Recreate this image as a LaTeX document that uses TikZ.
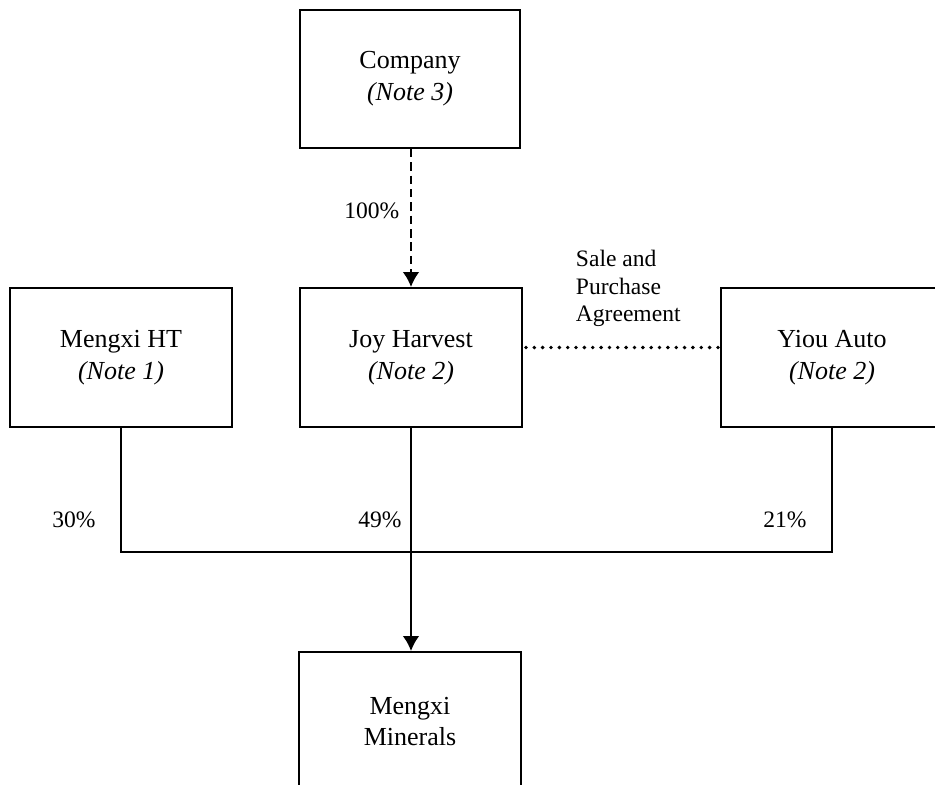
\documentclass[tikz,border=0pt]{standalone}
\usepackage{fontspec}
\setmainfont{Liberation Serif}
\usetikzlibrary{positioning,calc,arrows.meta}

\begin{document}
\begin{tikzpicture}[font=\fontsize{14.8}{18.2}\selectfont,>={Latex[length=8.5pt,width=9.5pt]},line width=1.1pt]
  \tikzset{
    entity/.style={
      draw,
      align=center,
      inner sep=0pt,
      minimum width=4.44cm,
      minimum height=2.78cm
    },
    share/.style={
      font=\fontsize{13.4}{15.6}\selectfont,
      inner sep=0pt
    }
  }

  \clip (0,0) rectangle (18.7,-15.7);

  \node[entity,minimum width=4.4cm,minimum height=2.76cm] (company) at (8.2,-1.58) {Company\\\textit{(Note 3)}};

  \node[entity] (mengxiHT) at (2.42,-7.15) {Mengxi HT\\\textit{(Note 1)}};

  \node[entity] (joyHarvest) at (8.22,-7.15) {Joy Harvest\\\textit{(Note 2)}};

  \node[entity] (yiouAuto) at (16.64,-7.15) {Yiou Auto\\\textit{(Note 2)}};

  \node[entity] (minerals) at (8.2,-14.43) {Mengxi\\Minerals};

  \coordinate (bus) at (0,-11.04);

  \draw[->,line width=1.3pt,dash pattern=on 4.8pt off 2.8pt] (company.south -| joyHarvest.north) -- node[share,pos=0.45,left=6pt] (pctCompany) {100\%} (joyHarvest.north);
  \draw[line cap=round,line width=2.2pt,dash pattern=on 0pt off 4.75pt] ($(joyHarvest.east)+(0.06,0.2)$) -- ($(yiouAuto.west)+(0,0.2)$);
  \node[share,anchor=west,align=left] (agreement) at (11.5,-5.77) {Sale and\\Purchase\\Agreement};

  \draw (mengxiHT.south) -- (mengxiHT.south |- bus) -- (yiouAuto.south |- bus) -- (yiouAuto.south);
  \draw[->,line width=1.3pt] (joyHarvest.south) -- (joyHarvest.south |- minerals.north);

  \node[share] (pctHT) at (1.48,-10.4) {30\%};
  \node[share] (pctJoy) at (7.6,-10.4) {49\%};
  \node[share] (pctYiou) at (15.7,-10.4) {21\%};
\end{tikzpicture}
\end{document}
